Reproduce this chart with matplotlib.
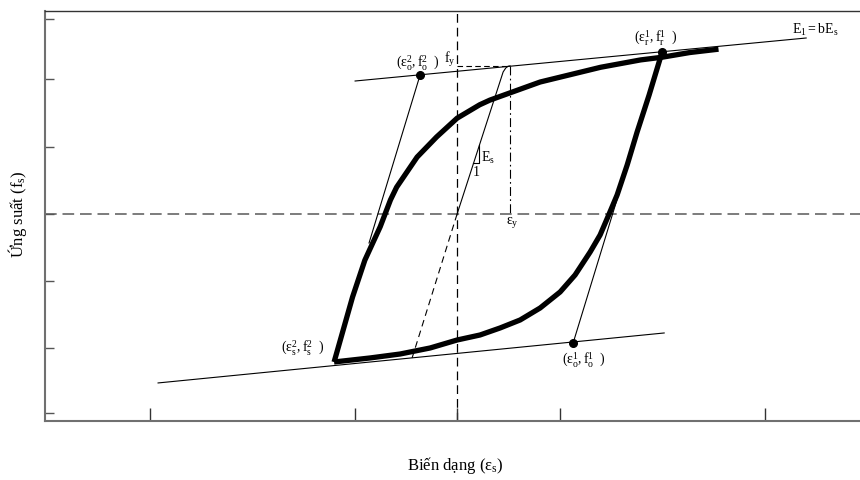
import matplotlib
matplotlib.use("Agg")
import matplotlib.pyplot as plt

plt.rcParams['font.family'] = ['Liberation Serif', 'DejaVu Serif']
plt.rcParams['mathtext.fontset'] = 'custom'
plt.rcParams['mathtext.rm'] = 'Liberation Serif'
plt.rcParams['mathtext.it'] = 'Liberation Serif:italic'

# Reloading branch: from the lower reversal point up past the upper reversal point
load_eps = [-1.20, -1.02, -0.90, -0.75, -0.65, -0.59, -0.39, -0.20, 0.00,
            0.22, 0.32, 0.81, 1.40, 1.79, 2.00, 2.27, 2.55]
load_sig = [-2.21, -1.24, -0.69, -0.19, 0.21, 0.40, 0.85, 1.15, 1.43,
            1.63, 1.70, 1.97, 2.19, 2.30, 2.34, 2.41, 2.46]

# Unloading branch: from the upper reversal point down to the lower one
unload_eps = [2.000, 1.873, 1.756, 1.659, 1.561, 1.483, 1.395, 1.298, 1.151,
              1.005, 0.810, 0.615, 0.420, 0.224, 0.000, -0.263, -0.556,
              -0.849, -1.200]
unload_sig = [2.418, 1.776, 1.224, 0.731, 0.284, 0.000, -0.313, -0.567,
              -0.910, -1.164, -1.403, -1.582, -1.701, -1.806, -1.881,
              -2.000, -2.090, -2.149, -2.209]

# Asymptotes with slope E1 = b*Es
upper_asym_eps = [-0.995, 3.405]
upper_asym_sig = [1.985, 2.627]
lower_asym_eps = [-2.917, 2.020]
lower_asym_sig = [-2.522, -1.776]

# Initial loading curve and its elastic extension
virgin_eps = [0.0, 0.449, 0.475, 0.498, 0.517]
virgin_sig = [0.0, 2.12, 2.18, 2.205, 2.21]
elastic_ext_eps = [0.0, -0.439]
elastic_ext_sig = [0.0, -2.149]

# Yield point
eps_y = 0.517
f_y = 2.21

# Marked points
pt_o2 = (-0.361, 2.075)
pt_r1 = (2.000, 2.418)
pt_o1 = (1.132, -1.925)
elastic2_end = (-0.859, -0.433)

# Slope triangle on the elastic line
tri_eps = [0.156, 0.215, 0.215]
tri_sig = [0.761, 0.761, 1.030]

x_ticks = [-3, -1, 0, 1, 3]
y_ticks = [2.91, 2.015, 1.0, 0.0, -1.0, -2.0, -2.97]

fig = plt.figure(figsize=(8.6, 4.8), dpi=100)
ax = fig.add_axes([45 / 860, 59 / 480, 816 / 860, 410 / 480])
ax.set_xlim(-4.02, 3.94)
ax.set_ylim(-3.09, 3.03)

# Reference axes through the origin
ax.axvline(0, color='black', lw=0.9, ls=(0, (7, 4)), zorder=1)
ax.axhline(0, color='#666666', lw=1.2, ls=(0, (7, 3.5)), zorder=1)

thin = dict(color='black', lw=0.8, zorder=2)
ax.plot(upper_asym_eps, upper_asym_sig, **thin)
ax.plot(lower_asym_eps, lower_asym_sig, **thin)
ax.plot(virgin_eps, virgin_sig, **thin)
ax.plot(elastic_ext_eps, elastic_ext_sig, color='black', lw=0.8,
        ls=(0, (6, 4)), zorder=2)
ax.plot([pt_o2[0], elastic2_end[0]], [pt_o2[1], elastic2_end[1]], **thin)
ax.plot([pt_r1[0], pt_o1[0]], [pt_r1[1], pt_o1[1]], **thin)
ax.plot(tri_eps, tri_sig, **thin)

# Yield stress and yield strain guides
ax.plot([0, eps_y], [f_y, f_y], color='black', lw=0.8, ls=(0, (5, 3)), zorder=2)
ax.plot([eps_y, eps_y], [f_y, 0], color='black', lw=0.8,
        ls=(0, (8, 3, 1.5, 3)), zorder=2)

# Hysteresis loop
ax.plot(load_eps, load_sig, color='black', lw=3.8, solid_capstyle='butt',
        solid_joinstyle='round', zorder=3)
ax.plot(unload_eps, unload_sig, color='black', lw=3.8, solid_capstyle='butt',
        solid_joinstyle='round', zorder=3)

for p in (pt_o2, pt_r1, pt_o1):
    ax.plot(p[0], p[1], 'o', color='black', ms=5.5, zorder=4)

lab = dict(fontsize=10, color='black')
ax.text(-0.38, 2.26, r'$\mathregular{(ε_o^2,f_o^2\ \ )}$', ha='center', va='center', **lab)
ax.text(1.94, 2.63, r'$\mathregular{(ε_r^1,f_r^1\ \ )}$', ha='center', va='center', **lab)
ax.text(-1.50, -2.00, r'$\mathregular{(ε_s^2,f_s^2\ \ )}$', ha='center', va='center', **lab)
ax.text(1.24, -2.17, r'$\mathregular{(ε_o^1,f_o^1\ \ )}$', ha='center', va='center', **lab)
ax.text(3.27, 2.75, r'$\mathregular{E_1 = bE_s}$', ha='left', va='center', **lab)
ax.text(-0.01, 2.30, r'$\mathregular{f_y}$', ha='right', va='center', **lab)
ax.text(0.54, -0.12, r'$\mathregular{ε_y}$', ha='center', va='center', **lab)
ax.text(0.235, 0.83, r'$\mathregular{E_s}$', ha='left', va='center', **lab)
ax.text(0.185, 0.62, '1', ha='center', va='center', **lab)

# Frame and ticks
for side in ('left', 'bottom'):
    ax.spines[side].set_color('#707070')
    ax.spines[side].set_linewidth(1.5)
ax.spines['top'].set_color('#333333')
ax.spines['top'].set_linewidth(1.0)
ax.spines['right'].set_visible(False)
ax.set_xticks(x_ticks)
ax.set_yticks(y_ticks)
ax.tick_params(axis='x', direction='in', length=9.5, width=1.0, color='#333333',
               labelbottom=False)
ax.tick_params(axis='y', direction='in', length=6.5, width=1.0, color='#555555',
               labelleft=False)

fig.text(455 / 860, 1 - 465 / 480, r'Biến dạng ($\mathregular{ε_s}$)',
         ha='center', va='center', fontsize=12)
fig.text(18 / 860, 1 - 214 / 480, r'Ứng suất ($\mathregular{f_s}$)',
         ha='center', va='center', rotation=90, fontsize=12)

fig.savefig('out.png', dpi=100)
